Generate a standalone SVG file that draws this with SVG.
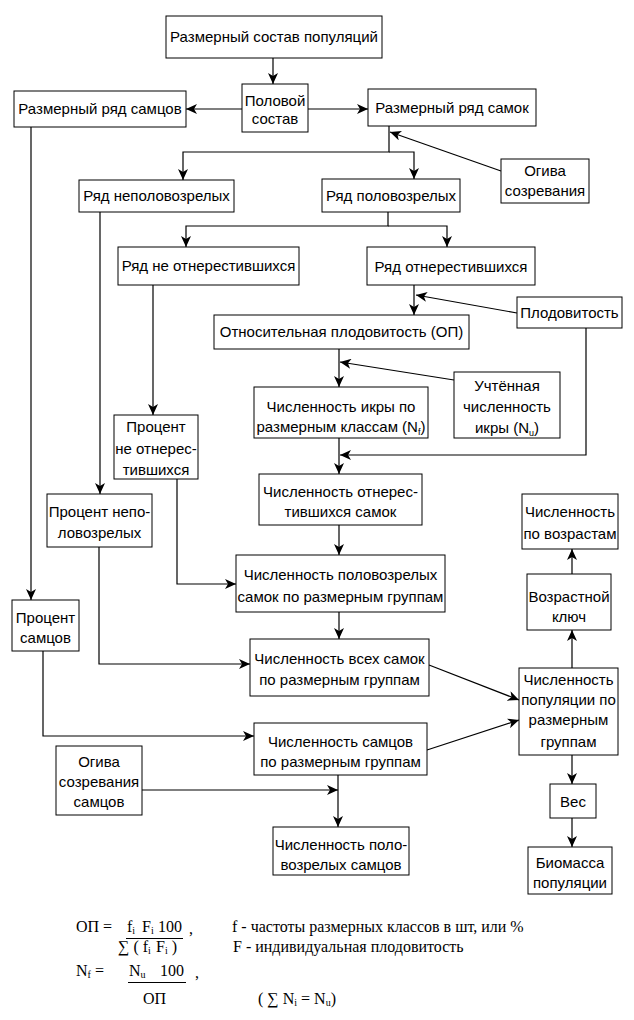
<svg xmlns="http://www.w3.org/2000/svg" width="634" height="1020" viewBox="0 0 634 1020">
<style>
.b{fill:#fff;stroke:#000;stroke-width:1}
text{font-family:"Liberation Sans",Arial,sans-serif;font-size:15px;fill:#000;text-anchor:middle}
.c{fill:none;stroke:#000;stroke-width:1.2}
.f{font-family:"Liberation Serif","Times New Roman",serif;font-size:16px;text-anchor:start}
.s{font-size:10px}
.u{stroke:#000;stroke-width:1}
</style>
<defs>
<marker id="a" markerUnits="userSpaceOnUse" markerWidth="11" markerHeight="10" viewBox="0 0 11 10" refX="11" refY="5" orient="auto">
<path d="M0,0 L11,5 L0,10 L3,5 Z" fill="#000"/>
</marker>
</defs>
<rect width="634" height="1020" fill="#fff"/>
<g id="connectors" marker-end="url(#a)">
<path class="c" d="M273,58 V84"/>
<path class="c" d="M242,109 H186"/>
<path class="c" d="M308,109 H368"/>
<path class="c" d="M389,126 V152 H183 V180"/>
<path class="c" d="M389,152 H414 V179"/>
<path class="c" d="M501,171 L390,132"/>
<path class="c" d="M31,127 V600"/>
<path class="c" d="M100,212 V494"/>
<path class="c" d="M388,212 V226 H186 V247"/>
<path class="c" d="M388,226 H447 V247"/>
<path class="c" d="M153,285 V415"/>
<path class="c" d="M414,285 V315"/>
<path class="c" d="M517,313 L416,295"/>
<path class="c" d="M586,328 V455 H340"/>
<path class="c" d="M339,349 V387"/>
<path class="c" d="M454,380 L340,362"/>
<path class="c" d="M339,438 V474"/>
<path class="c" d="M339,525 V555"/>
<path class="c" d="M339,612 V639"/>
<path class="c" d="M177,479 V584 H236"/>
<path class="c" d="M99,547 V664 H250"/>
<path class="c" d="M43,651 V736 H254"/>
<path class="c" d="M142,790 H338"/>
<path class="c" d="M338,775 V827"/>
<path class="c" d="M429,665 L519,700"/>
<path class="c" d="M427,750 L519,720"/>
<path class="c" d="M572,668 V630"/>
<path class="c" d="M572,574 V549"/>
<path class="c" d="M572,755 V784"/>
<path class="c" d="M572,818 V847"/>
</g>
<g id="n1"><rect class="b" x="166" y="16" width="216" height="42"/><text x="274" y="42">Размерный состав популяций</text></g>
<g id="n2"><rect class="b" x="242" y="84" width="66" height="48"/><text x="275" y="106">Половой</text><text x="275" y="124">состав</text></g>
<g id="n3"><rect class="b" x="14" y="91" width="172" height="36"/><text x="100" y="114">Размерный ряд самцов</text></g>
<g id="n4"><rect class="b" x="368" y="89" width="168" height="37"/><text x="452" y="113">Размерный ряд самок</text></g>
<g id="n5"><rect class="b" x="501" y="159" width="88" height="44"/><text x="545" y="176">Огива</text><text x="545" y="196">созревания</text></g>
<g id="n6"><rect class="b" x="79" y="180" width="155" height="32"/><text x="156.5" y="201">Ряд неполовозрелых</text></g>
<g id="n7"><rect class="b" x="322" y="179" width="138" height="33"/><text x="391" y="201">Ряд половозрелых</text></g>
<g id="n8"><rect class="b" x="118" y="247" width="181" height="38"/><text x="208.5" y="271">Ряд не отнерестившихся</text></g>
<g id="n9"><rect class="b" x="367" y="247" width="168" height="38"/><text x="451" y="272">Ряд отнерестившихся</text></g>
<g id="n10"><rect class="b" x="214" y="315" width="255" height="34"/><text x="341.5" y="337">Относительная плодовитость (ОП)</text></g>
<g id="n11"><rect class="b" x="517" y="297" width="105" height="31"/><text x="569.5" y="318">Плодовитость</text></g>
<g id="n12"><rect class="b" x="254" y="387" width="174" height="51"/><text x="341" y="412">Численность икры по</text><text x="341" y="432">размерным классам (N<tspan font-size="9" dy="3">f</tspan><tspan dy="-3">)</tspan></text></g>
<g id="n13"><rect class="b" x="454" y="372" width="106" height="66"/><text x="507" y="391">Учтённая</text><text x="507" y="412">численность</text><text x="507" y="433">икры (N<tspan font-size="9" dy="3">u</tspan><tspan dy="-3">)</tspan></text></g>
<g id="n14"><rect class="b" x="114" y="415" width="84" height="64"/><text x="156" y="432">Процент</text><text x="156" y="454">не отнерес-</text><text x="156" y="475">тившихся</text></g>
<g id="n15"><rect class="b" x="259" y="474" width="163" height="51"/><text x="340.5" y="497">Численность отнерес-</text><text x="340.5" y="517">тившихся самок</text></g>
<g id="n16"><rect class="b" x="47" y="494" width="105" height="53"/><text x="99.5" y="517">Процент непо-</text><text x="99.5" y="538">ловозрелых</text></g>
<g id="n17"><rect class="b" x="236" y="555" width="209" height="57"/><text x="340.5" y="580">Численность половозрелых</text><text x="340.5" y="602">самок по размерным группам</text></g>
<g id="n18"><rect class="b" x="12" y="600" width="67" height="51"/><text x="45.5" y="623">Процент</text><text x="45.5" y="643">самцов</text></g>
<g id="n19"><rect class="b" x="250" y="639" width="179" height="57"/><text x="339.5" y="664">Численность всех самок</text><text x="339.5" y="685">по размерным группам</text></g>
<g id="n20"><rect class="b" x="254" y="723" width="173" height="52"/><text x="340.5" y="747">Численность самцов</text><text x="340.5" y="767">по размерным группам</text></g>
<g id="n21"><rect class="b" x="56" y="746" width="86" height="69"/><text x="99" y="767">Огива</text><text x="99" y="787">созревания</text><text x="99" y="807">самцов</text></g>
<g id="n22"><rect class="b" x="273" y="827" width="136" height="48"/><text x="341" y="850">Численность поло-</text><text x="341" y="870">возрелых самцов</text></g>
<g id="n23"><rect class="b" x="522" y="494" width="96" height="55"/><text x="570" y="517">Численность</text><text x="570" y="539">по возрастам</text></g>
<g id="n24"><rect class="b" x="527" y="574" width="84" height="56"/><text x="569" y="602">Возрастной</text><text x="569" y="622">ключ</text></g>
<g id="n25"><rect class="b" x="519" y="668" width="99" height="87"/><text x="568.5" y="685">Численность</text><text x="568.5" y="705">популяции по</text><text x="568.5" y="725">размерным</text><text x="568.5" y="747">группам</text></g>
<g id="n26"><rect class="b" x="550" y="784" width="46" height="34"/><text x="573" y="807">Вес</text></g>
<g id="n27"><rect class="b" x="528" y="847" width="84" height="47"/><text x="570" y="868">Биомасса</text><text x="570" y="888">популяции</text></g>
<g id="formulas">
<text class="f" x="76" y="932">ОП =</text>
<text class="f" x="127" y="932">f<tspan class="s" dy="2">i</tspan><tspan x="142" dy="-2">F</tspan><tspan class="s" dy="2">i</tspan><tspan x="158" dy="-2">100</tspan></text>
<line class="u" x1="126" y1="938.5" x2="183" y2="938.5"/>
<text class="f" x="189" y="934">,</text>
<text class="f" x="232" y="932">f - частоты размерных классов в шт, или %</text>
<text class="f" x="118" y="952">∑ ( f<tspan class="s" dy="2">i</tspan><tspan x="156" dy="-2">F</tspan><tspan class="s" dy="2">i</tspan><tspan dy="-2"> )</tspan></text>
<text class="f" x="233" y="952">F - индивидуальная плодовитость</text>
<text class="f" x="76" y="976">N<tspan class="s" dy="2">f</tspan><tspan dy="-2"> =</tspan></text>
<text class="f" x="129" y="976">N<tspan class="s" dy="2">u</tspan><tspan x="160" dy="-2">100</tspan></text>
<line class="u" x1="128" y1="982.5" x2="186" y2="982.5"/>
<text class="f" x="195" y="978">,</text>
<text class="f" x="143" y="1004">ОП</text>
<text class="f" x="258" y="1004">( ∑ N<tspan class="s" dy="2">i</tspan><tspan dy="-2"> = N</tspan><tspan class="s" dy="2">u</tspan><tspan dy="-2">)</tspan></text>
</g>
</svg>
